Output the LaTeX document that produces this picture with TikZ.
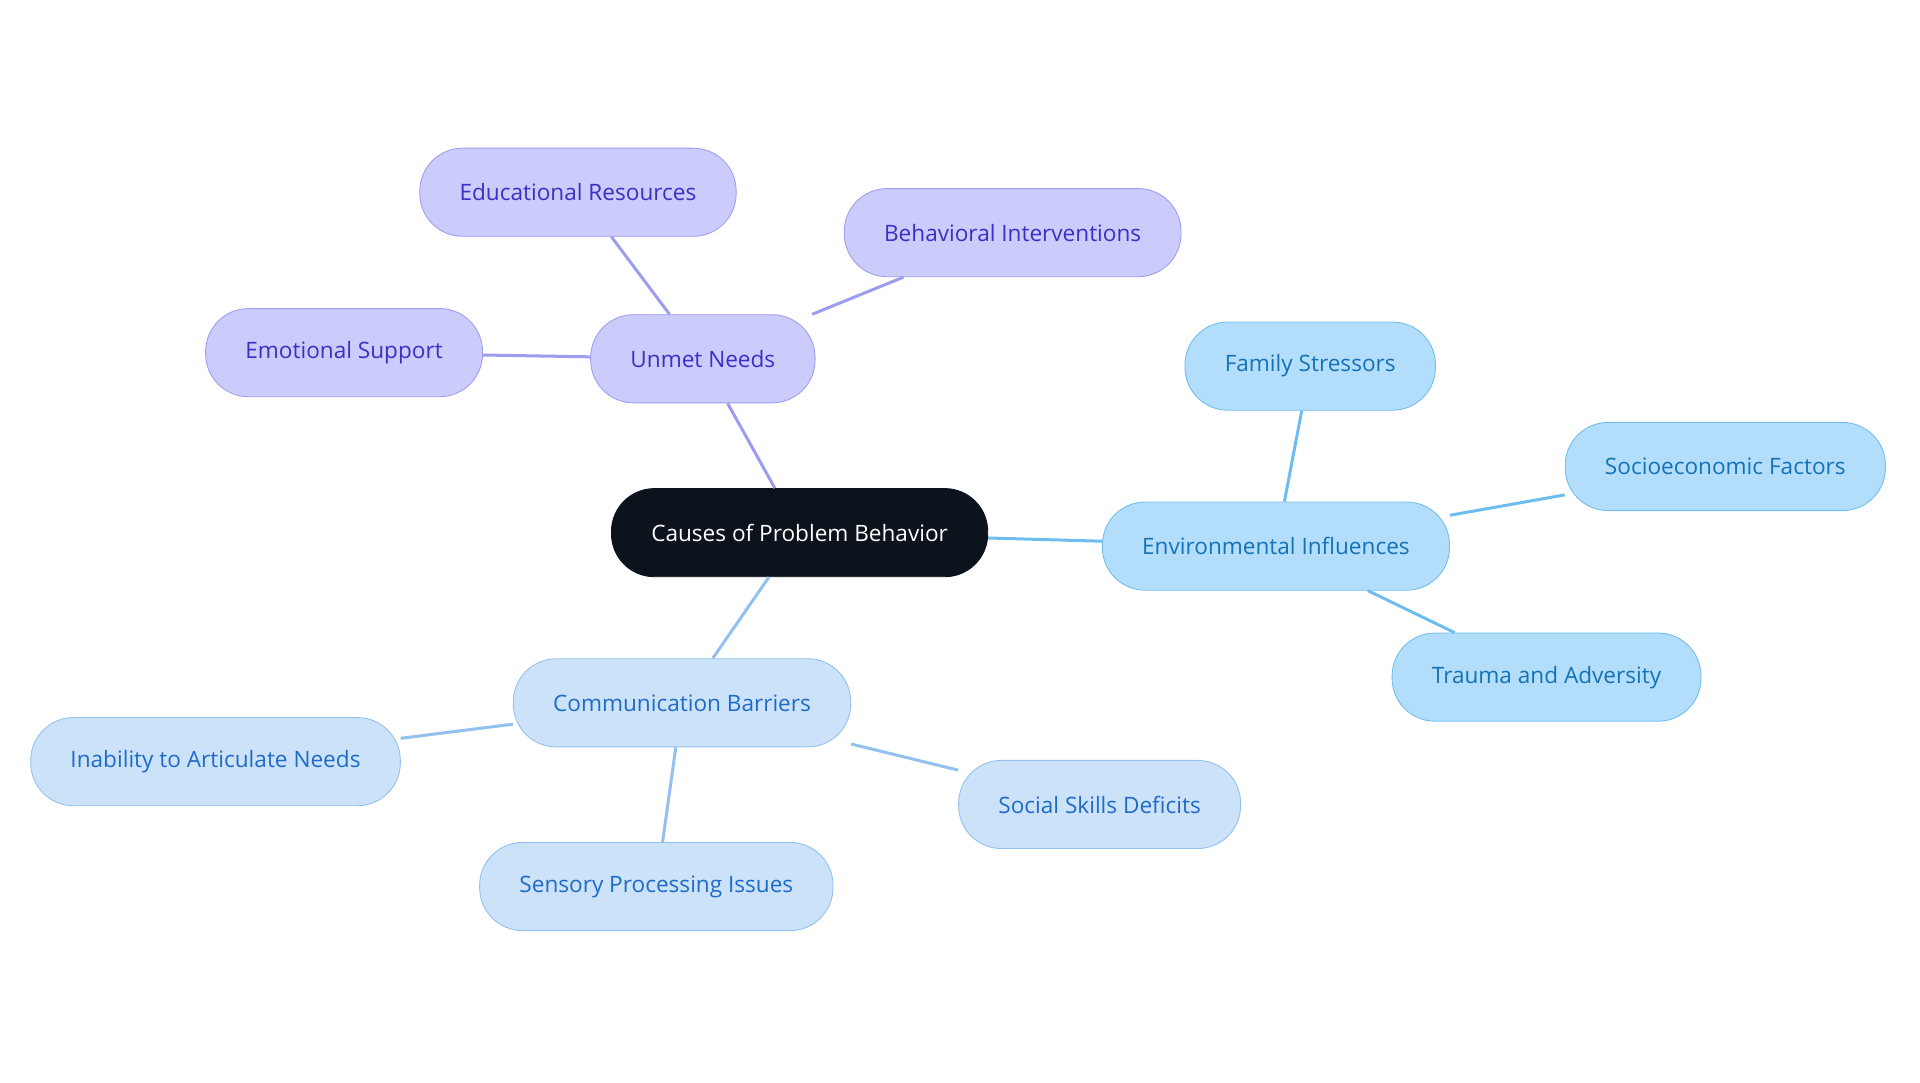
\documentclass[tikz,border=0pt]{standalone}
\usepackage{fontspec}
\setmainfont{Open Sans}
\definecolor{rootfill}{HTML}{0D131C}
\definecolor{purfill}{HTML}{CBCBFC}
\definecolor{purline}{HTML}{9D9DF0}
\definecolor{purtext}{HTML}{3B30C4}
\definecolor{comfill}{HTML}{CCE2F9}
\definecolor{comline}{HTML}{93C0EE}
\definecolor{comtext}{HTML}{1E6BC8}
\definecolor{envfill}{HTML}{B3DEFB}
\definecolor{envline}{HTML}{6FBDEF}
\definecolor{envtext}{HTML}{1572B6}
\begin{document}
\begin{tikzpicture}[x=0.02cm,y=-0.02cm,
    every node/.style={font=\fontsize{10.5}{12}\selectfont, minimum height=1.44cm, rounded corners=0.7cm, inner xsep=0.65cm},
  ]

  \tikzset{
      raiz/.style={fill=rootfill, draw=rootfill, text=white},
      roxo/.style={fill=purfill, draw=purline, text=purtext},
      azul/.style={fill=comfill, draw=comline, text=comtext},
      ceu/.style={fill=envfill, draw=envline, text=envtext},
      ligaroxo/.style={draw=purline, line width=1.4pt},
      ligaazul/.style={draw=comline, line width=1.4pt},
      ligaceu/.style={draw=envline, line width=1.4pt}
  }

  \useasboundingbox (0,0) rectangle (1568,884);

  % Centro
  \node[raiz] (R) at (653,435) {Causes of Problem Behavior};

  % Necessidades
  \node[roxo] (U) at (574,293) {Unmet Needs};
  \node[roxo] (U1) at (472,157) {Educational Resources};
  \node[roxo] (U2) at (827,190) {Behavioral Interventions};
  \node[roxo] (U3) at (281,288) {Emotional Support};

  % Ambiente
  \node[ceu] (E) at (1042,446) {Environmental Influences};
  \node[ceu] (E1) at (1070,299) {Family Stressors};
  \node[ceu] (E2) at (1409,381) {Socioeconomic Factors};
  \node[ceu] (E3) at (1263,553) {Trauma and Adversity};

  % Comunicação
  \node[azul] (C) at (557,574) {Communication Barriers};
  \node[azul] (C1) at (176,622) {Inability to Articulate Needs};
  \node[azul] (C2) at (536,724) {Sensory Processing Issues};
  \node[azul] (C3) at (898,657) {Social Skills Deficits};

  \begin{scope}[on background layer/.try]
  \end{scope}
  \draw[ligaroxo] (R) -- (U);
  \draw[ligaroxo] (U) -- (U1);
  \draw[ligaroxo] (U) -- (U2);
  \draw[ligaroxo] (U) -- (U3);
  \draw[ligaceu] (R) -- (E);
  \draw[ligaceu] (E) -- (E1);
  \draw[ligaceu] (E) -- (E2);
  \draw[ligaceu] (E) -- (E3);
  \draw[ligaazul] (R) -- (C);
  \draw[ligaazul] (C) -- (C1);
  \draw[ligaazul] (C) -- (C2);
  \draw[ligaazul] (C) -- (C3);

\end{tikzpicture}
\end{document}
